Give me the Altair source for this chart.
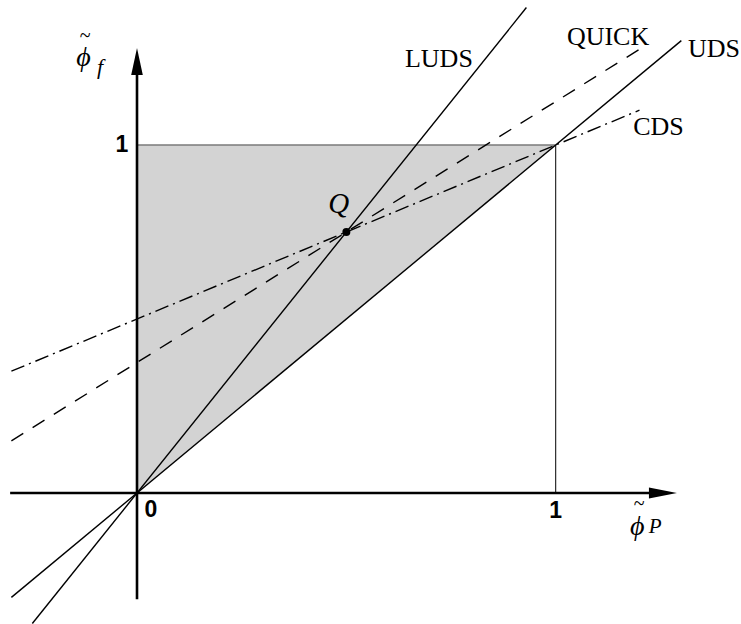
import altair as alt
import pandas as pd

# Normalised variable diagram: phi_f against phi_P for four schemes
schemes = ["UDS", "LUDS", "QUICK", "CDS"]
x_start = [-0.30, -0.25, -0.30, -0.30]
x_end = [1.30, 0.93, 1.20, 1.20]
y_start = [-0.30, -0.375, 0.15, 0.35]
y_end = [1.30, 1.395, 1.275, 1.10]

# Point Q where the schemes cross
q_x = [0.5]
q_y = [0.75]

# Shaded admissible triangle (0,0)-(0,1)-(1,1)
tri_x = [0.0, 1.0]
tri_lo = [0.0, 1.0]
tri_hi = [1.0, 1.0]

W, H = 741, 624
xs = alt.Scale(domain=[-0.3272, 1.4425], nice=False, zero=False)
ys = alt.Scale(domain=[-0.3764, 1.4167], nice=False, zero=False)

def X(field="x"):
    return alt.X(f"{field}:Q", scale=xs, axis=None)

def Y(field="y"):
    return alt.Y(f"{field}:Q", scale=ys, axis=None)

tri = pd.DataFrame({"x": tri_x, "lo": tri_lo, "hi": tri_hi})
area = alt.Chart(tri).mark_area(color="#d3d3d3", opacity=1).encode(
    x=X(), y=Y("lo"), y2="hi:Q"
)

# Edges of the unit square
top_edge = alt.Chart(pd.DataFrame({"x": [0.0], "x2": [1.0], "y": [1.0]})).mark_rule(
    color="#7a7a7a", strokeWidth=1.5
).encode(x=X(), x2="x2:Q", y=Y())
right_edge = alt.Chart(pd.DataFrame({"x": [1.0], "y": [0.0], "y2": [1.0]})).mark_rule(
    color="black", strokeWidth=1
).encode(x=X(), y=Y(), y2="y2:Q")

def scheme_line(i, dash=None):
    df = pd.DataFrame({"x": [x_start[i], x_end[i]], "y": [y_start[i], y_end[i]]})
    kw = dict(color="black", strokeWidth=1.4, strokeCap="butt")
    if dash:
        kw["strokeDash"] = dash
    return alt.Chart(df).mark_line(**kw).encode(x=X(), y=Y())

uds = scheme_line(0)
luds = scheme_line(1)
quick = scheme_line(2, [14, 11])
cds = scheme_line(3, [14, 5, 2, 5])

# Coordinate axes with arrow heads
x_axis = alt.Chart(pd.DataFrame({"x": [-0.303], "x2": [1.24], "y": [0.0]})).mark_rule(
    color="black", strokeWidth=2.6
).encode(x=X(), x2="x2:Q", y=Y())
y_axis = alt.Chart(pd.DataFrame({"x": [0.0], "y": [-0.305], "y2": [1.22]})).mark_rule(
    color="black", strokeWidth=2.6
).encode(x=X(), y=Y(), y2="y2:Q")
x_head = alt.Chart(pd.DataFrame({"x": [1.256], "y": [0.0]})).mark_point(
    shape="M 1 0 L -1 -0.4 L -1 0.4 Z", size=784, filled=True, color="black", opacity=1
).encode(x=X(), y=Y())
y_head = alt.Chart(pd.DataFrame({"x": [0.0], "y": [1.24]})).mark_point(
    shape="M 0 -1 L -0.43 1 L 0.43 1 Z", size=729, filled=True, color="black", opacity=1
).encode(x=X(), y=Y())

q_point = alt.Chart(pd.DataFrame({"x": q_x, "y": q_y})).mark_circle(
    size=64, color="black", opacity=1
).encode(x=X(), y=Y())

def label(text, x, y, align="center", font="Liberation Serif", size=26,
          style="normal", weight="normal"):
    df = pd.DataFrame({"x": [x], "y": [y], "t": [text]})
    return alt.Chart(df).mark_text(
        align=align, baseline="alphabetic", font=font, fontSize=size,
        fontStyle=style, fontWeight=weight, color="black"
    ).encode(x=X(), y=Y(), text="t:N")

labels = [
    label("LUDS", 0.721, 1.224),
    label("QUICK", 1.125, 1.287),
    label("UDS", 1.316, 1.253, align="left"),
    label("CDS", 1.185, 1.029, align="left"),
    label("Q", 0.482, 0.805, size=29, style="italic"),
    # tick labels
    label("0", 0.033, -0.069, font="Liberation Sans", size=23, weight="bold"),
    label("1", 1.0, -0.072, font="Liberation Sans", size=23, weight="bold"),
    label("1", -0.036, 0.98, font="Liberation Sans", size=23, weight="bold"),
    # axis titles: phi with a tilde accent and a subscript
    label("ϕ", -0.128, 1.228, size=28, style="italic"),
    label("~", -0.124, 1.295, size=20),
    label("f", -0.088, 1.205, size=22, style="italic"),
    label("ϕ", 1.195, -0.121, size=28, style="italic"),
    label("~", 1.199, -0.050, size=20),
    label("P", 1.222, -0.115, align="left", size=21, style="italic"),
]

chart = alt.layer(
    area, top_edge, right_edge, uds, luds, quick, cds,
    x_axis, y_axis, x_head, y_head, q_point, *labels
).properties(
    width=W, height=H, padding=0, autosize=alt.AutoSizeParams(type="none"),
    background="white"
).configure_view(stroke=None)

chart.save("out.html", embed_options={"renderer": "svg", "actions": False})
